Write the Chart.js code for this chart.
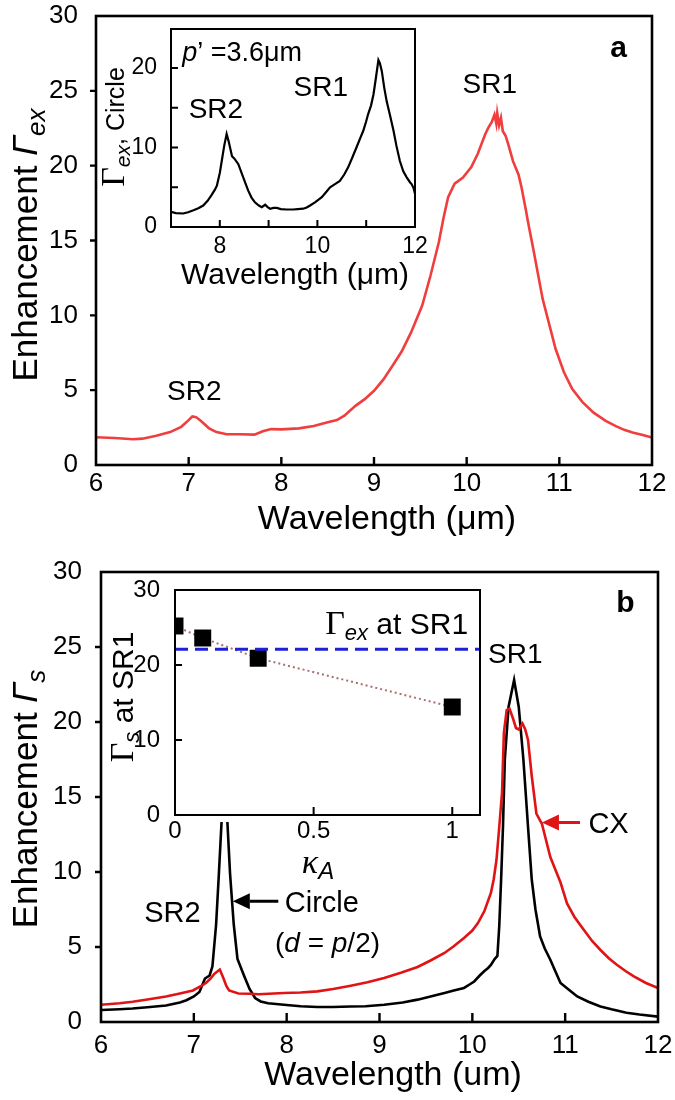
<!DOCTYPE html>
<html>
<head>
<meta charset="utf-8">
<script src="https://cdn.jsdelivr.net/npm/chart.js@4.4.1/dist/chart.umd.min.js"></script>
<style>
html,body{margin:0;padding:0;background:#fff;}
#wrap{position:relative;width:675px;height:1100px;overflow:hidden;background:#fff;}
#wrap canvas{position:absolute;}
</style>
</head>
<body>
<div id="wrap">
<canvas id="mainA" width="675" height="550" style="left:0px;top:0px;width:675px;height:550px"></canvas>
<canvas id="insetA" width="350" height="275" style="left:90px;top:20px;width:350px;height:275px"></canvas>
<canvas id="mainB" width="675" height="550" style="left:0px;top:550px;width:675px;height:550px"></canvas>
<canvas id="insetB" width="400" height="310" style="left:100px;top:575px;width:400px;height:310px"></canvas>
</div>
<script>
// ---------------- DATA ----------------
// Panel a, main: enhancement Γex vs wavelength (red)
const waveA = [6.0,6.2,6.4,6.5,6.65,6.8,6.92,7.0,7.04,7.08,7.13,7.22,7.3,7.41,7.55,7.71,7.8,7.89,8.0,8.19,8.35,8.5,8.6,8.68,8.8,8.9,9.0,9.1,9.2,9.3,9.4,9.52,9.61,9.7,9.75,9.8,9.87,9.96,10.05,10.12,10.2,10.24,10.27,10.3,10.32,10.33,10.35,10.37,10.39,10.42,10.45,10.5,10.56,10.59,10.64,10.66,10.72,10.82,10.96,11.05,11.14,11.25,11.37,11.5,11.61,11.7,11.79,11.9,12.0];
const gammaExA = [1.85,1.8,1.72,1.76,1.95,2.2,2.55,3.0,3.25,3.2,2.95,2.45,2.2,2.05,2.05,2.03,2.25,2.4,2.38,2.45,2.6,2.85,3.0,3.3,3.95,4.4,4.96,5.7,6.63,7.6,8.86,10.65,12.66,14.9,16.5,17.9,18.8,19.2,19.9,20.8,22.1,22.6,22.9,23.4,22.8,23.5,22.7,23.2,22.3,22.0,21.4,20.3,19.4,18.6,17.0,16.3,14.4,11.1,7.75,6.2,5.07,4.2,3.5,2.95,2.6,2.35,2.17,2.0,1.83];

// Panel a, inset: Γex for circle, p' = 3.6 µm (black)
const waveInsetA = [7.0,7.1,7.25,7.35,7.46,7.56,7.66,7.75,7.83,7.9,7.94,8.0,8.04,8.09,8.14,8.18,8.21,8.25,8.3,8.38,8.48,8.58,8.65,8.72,8.8,8.86,8.93,8.98,9.03,9.1,9.17,9.25,9.37,9.5,9.6,9.71,9.78,9.85,9.95,10.09,10.18,10.26,10.36,10.46,10.55,10.63,10.72,10.8,10.88,10.94,11.0,11.04,11.1,11.15,11.2,11.25,11.28,11.32,11.37,11.42,11.49,11.56,11.62,11.69,11.76,11.83,11.9,11.93,11.97,12.0];
const gammaExCircle = [1.9,1.75,1.7,1.85,2.1,2.35,2.7,3.3,4.0,4.7,5.2,6.8,8.3,10.2,11.7,10.8,10.0,8.9,8.6,7.9,6.25,4.6,3.7,3.1,2.7,2.5,2.8,2.5,2.3,2.4,2.4,2.25,2.2,2.2,2.25,2.3,2.45,2.7,3.1,3.75,4.4,5.0,5.4,5.8,6.6,7.5,8.8,10.0,11.2,12.1,13.3,14.2,15.3,16.7,18.8,21.0,20.6,19.6,17.5,15.8,14.0,12.1,10.2,8.3,7.0,6.25,5.6,5.4,4.9,4.2];

// Panel b, main: Γs for circle (black) and CX (red)
const waveCircleB = [6.0,6.2,6.34,6.5,6.7,6.85,6.92,7.0,7.06,7.12,7.17,7.2,7.24,7.27,7.3,7.33,7.36,7.39,7.43,7.47,7.54,7.6,7.66,7.72,7.8,7.97,8.15,8.33,8.5,8.69,8.85,9.05,9.25,9.41,9.55,9.7,9.8,9.91,9.97,10.02,10.08,10.13,10.17,10.2,10.24,10.27,10.29,10.31,10.33,10.35,10.39,10.45,10.5,10.55,10.6,10.64,10.68,10.73,10.78,10.84,10.9,10.95,11.05,11.13,11.25,11.38,11.5,11.66,11.8,12.0];
const gammaSCircle = [0.8,0.85,0.9,0.98,1.1,1.3,1.45,1.7,2.0,2.9,3.1,3.7,6.5,9.9,13.5,16.0,13.5,9.9,6.5,4.2,3.1,2.2,1.6,1.37,1.25,1.15,1.05,1.0,1.0,1.03,1.05,1.15,1.3,1.49,1.7,1.93,2.1,2.27,2.5,2.7,3.1,3.4,3.6,3.8,4.2,4.4,6.4,9.5,13.0,17.5,21.0,22.8,21.0,17.5,13.0,9.5,7.5,5.7,4.9,4.15,3.3,2.6,2.1,1.7,1.35,1.04,0.85,0.62,0.5,0.36];
const waveCXB = [6.0,6.2,6.34,6.5,6.7,6.85,6.99,7.08,7.13,7.18,7.22,7.28,7.32,7.35,7.38,7.48,7.6,7.7,7.97,8.15,8.33,8.5,8.69,8.87,9.05,9.23,9.41,9.55,9.7,9.8,9.91,10.0,10.06,10.13,10.2,10.23,10.26,10.29,10.32,10.34,10.37,10.4,10.44,10.47,10.5,10.54,10.57,10.6,10.64,10.69,10.75,10.84,10.95,11.02,11.1,11.2,11.29,11.38,11.47,11.56,11.65,11.74,11.87,12.0];
const gammaSCX = [1.15,1.25,1.35,1.5,1.7,1.9,2.1,2.4,2.6,2.9,3.2,3.5,2.9,2.4,2.1,1.9,1.88,1.85,1.93,1.97,2.04,2.2,2.42,2.65,2.93,3.28,3.67,4.1,4.6,5.05,5.6,6.1,6.6,7.4,8.6,9.5,10.8,13.0,15.3,19.3,20.8,20.9,20.2,19.6,19.5,19.9,19.5,18.8,16.4,13.9,13.2,11.0,9.3,7.9,7.0,6.15,5.4,4.8,4.25,3.8,3.4,3.04,2.6,2.27];

// Panel b, inset: Γs at SR1 vs κA, and Γex at SR1 reference
const kappaA = [0, 0.1, 0.3, 1];
const gammaSSR1 = [25.2, 23.6, 20.9, 14.4];
const gammaExSR1 = 22.1;

// Axis ranges
const mainXRange = [6, 12];
const mainYRange = [0, 30];
const insetAXRange = [7, 12];
const insetAYRange = [0, 24.9];
const insetBXRange = [0, 1.1];
const insetBYRange = [0, 30];

// ---------------- STYLE / HELPERS ----------------
const SANS = '"Liberation Sans", Arial, Helvetica, sans-serif';
const SERIF = '"Liberation Serif", "Times New Roman", serif';
const fnt = (size, style, fam) => ((style || '') + ' ' + size + 'px ' + (fam || SANS)).trim();
Chart.defaults.font.family = SANS;
Chart.defaults.color = '#000';

const pts = (xs, ys) => xs.map((x, i) => ({ x: x, y: ys[i] }));
const zeroPad = s => { s.paddingTop = 0; s.paddingBottom = 0; s.paddingLeft = 0; s.paddingRight = 0; };

function drawRich(ctx, runs, x, y, align, rot, size) {
  ctx.save();
  ctx.translate(x, y);
  if (rot) ctx.rotate(rot);
  ctx.textBaseline = 'alphabetic';
  ctx.textAlign = 'left';
  let w = 0;
  const ws = runs.map(r => { ctx.font = r.font; const m = ctx.measureText(r.t).width; w += m; return m; });
  let cx = align === 'center' ? -w / 2 : (align === 'right' ? -w : 0);
  const base = 0.36 * size;
  runs.forEach((r, i) => {
    ctx.font = r.font; ctx.fillStyle = r.color || '#000';
    ctx.fillText(r.t, cx, base + (r.dy || 0));
    cx += ws[i];
  });
  ctx.restore();
}

function decor(spec) {
  return {
    id: 'decor_' + spec.name,
    beforeDraw(chart) {
      if (!spec.whiteBg) return;
      const a = chart.chartArea, ctx = chart.ctx;
      ctx.save(); ctx.fillStyle = '#fff';
      ctx.fillRect(a.left - 1, a.top - 1, a.right - a.left + 2, a.bottom - a.top + 2 + (spec.bgExtend || 0));
      ctx.restore();
    },
    afterDraw(chart) {
      const ctx = chart.ctx, a = chart.chartArea, xs = chart.scales.x, ys = chart.scales.y;
      ctx.save();
      ctx.strokeStyle = '#000';
      ctx.lineWidth = spec.tickWidth;
      ctx.beginPath();
      xs.ticks.forEach(t => {
        if (t.value <= xs.min || t.value >= xs.max) return;
        const p = xs.getPixelForValue(t.value);
        ctx.moveTo(p, a.bottom); ctx.lineTo(p, a.bottom + (spec.xIn ? -spec.xLen : spec.xLen));
      });
      ys.ticks.forEach(t => {
        if (t.value <= ys.min || t.value >= ys.max) return;
        const p = ys.getPixelForValue(t.value);
        ctx.moveTo(a.left, p); ctx.lineTo(a.left + (spec.yIn ? spec.yLen : -spec.yLen), p);
      });
      ctx.stroke();
      ctx.lineWidth = spec.frameWidth;
      ctx.strokeRect(a.left, a.top, a.right - a.left, a.bottom - a.top);
      (spec.arrows || []).forEach(ar => {
        const x1 = xs.getPixelForValue(ar.from[0]), y1 = ys.getPixelForValue(ar.from[1]);
        const x2 = xs.getPixelForValue(ar.to[0]), y2 = ys.getPixelForValue(ar.to[1]);
        const ang = Math.atan2(y2 - y1, x2 - x1);
        const bx = x2 - Math.cos(ang) * ar.headLen, by = y2 - Math.sin(ang) * ar.headLen;
        ctx.strokeStyle = ar.color; ctx.fillStyle = ar.color; ctx.lineWidth = ar.width;
        ctx.beginPath(); ctx.moveTo(x1, y1); ctx.lineTo(bx, by); ctx.stroke();
        ctx.beginPath(); ctx.moveTo(x2, y2);
        ctx.lineTo(bx + Math.sin(ang) * ar.headHalf, by - Math.cos(ang) * ar.headHalf);
        ctx.lineTo(bx - Math.sin(ang) * ar.headHalf, by + Math.cos(ang) * ar.headHalf);
        ctx.closePath(); ctx.fill();
      });
      (spec.texts || []).forEach(tx => {
        let x = tx.x, y = tx.y;
        if (tx.data) { x = xs.getPixelForValue(tx.x); y = ys.getPixelForValue(tx.y); }
        drawRich(ctx, tx.runs, x, y, tx.align || 'center', tx.rot || 0, tx.size);
      });
      ctx.restore();
    }
  };
}

function baseOptions(o) {
  return {
    responsive: false, animation: false, events: [],
    layout: { padding: { left: 0, top: o.top, right: o.right, bottom: 0 }, autoPadding: false },
    plugins: { legend: { display: false }, tooltip: { enabled: false } },
    scales: {
      x: {
        type: 'linear', min: o.xr[0], max: o.xr[1],
        grid: { display: false }, border: { display: false },
        ticks: { stepSize: o.xStep, font: { size: o.tick }, color: '#000', padding: o.xPad, maxRotation: 0, autoSkip: false, includeBounds: false, callback: o.xCb },
        afterFit: s => { s.height = o.xH; zeroPad(s); }
      },
      y: {
        type: 'linear', min: o.yr[0], max: o.yr[1],
        grid: { display: false }, border: { display: false },
        ticks: { stepSize: o.yStep, font: { size: o.tick }, color: '#000', padding: o.yPad, autoSkip: false, includeBounds: false, callback: o.yCb },
        afterFit: s => { s.width = o.yW; zeroPad(s); }
      }
    }
  };
}

const ROT = -Math.PI / 2;
const RED_A = 'rgb(240,62,62)';
const RED_B = 'rgb(224,20,20)';

// ---------------- PANEL a : main ----------------
new Chart(document.getElementById('mainA'), {
  type: 'line',
  data: { datasets: [{ data: pts(waveA, gammaExA), borderColor: RED_A, borderWidth: 2.6, pointRadius: 0, tension: 0, fill: false }] },
  options: baseOptions({ top: 16, right: 23, xr: mainXRange, yr: mainYRange, xStep: 1, yStep: 5, tick: 26, xPad: -5, yPad: 10, xH: 85, yW: 96 }),
  plugins: [decor({
    name: 'mainA', frameWidth: 2.6, tickWidth: 2.4, xIn: true, xLen: 8, yIn: false, yLen: 6,
    texts: [
      { x: 24, y: 245, rot: ROT, size: 35, runs: [{ t: 'Enhancement ', font: fnt(35) }, { t: 'Γ', font: fnt(35, 'italic') }, { t: 'ex', font: fnt(26, 'italic'), dy: 8 }] },
      { x: 387, y: 517, size: 34, runs: [{ t: 'Wavelength (μm)', font: fnt(34) }] },
      { data: true, x: 7.06, y: 5.0, size: 28, runs: [{ t: 'SR2', font: fnt(28) }] },
      { data: true, x: 10.25, y: 25.53, size: 28, runs: [{ t: 'SR1', font: fnt(28) }] },
      { data: true, x: 11.64, y: 28.0, size: 30, runs: [{ t: 'a', font: fnt(30, 'bold') }] }
    ]
  })]
});

// ---------------- PANEL a : inset ----------------
new Chart(document.getElementById('insetA'), {
  type: 'line',
  data: { datasets: [{ data: pts(waveInsetA, gammaExCircle), borderColor: '#000', borderWidth: 2.2, pointRadius: 0, tension: 0, fill: false }] },
  options: baseOptions({ top: 9, right: 25, xr: insetAXRange, yr: insetAYRange, xStep: 1, yStep: 5, tick: 23, xPad: -2, yPad: 6, xH: 68, yW: 81,
    xCb: v => (v % 2 === 0 ? String(v) : ''), yCb: v => (v % 10 === 0 ? String(v) : '') }),
  plugins: [decor({
    name: 'insetA', whiteBg: true, frameWidth: 2, tickWidth: 2, xIn: true, xLen: 7, yIn: true, yLen: 7,
    texts: [
      { x: 25, y: 107, rot: ROT, size: 25, runs: [{ t: 'Γ', font: fnt(34, '', SERIF) }, { t: 'ex', font: fnt(21, 'italic'), dy: 6 }, { t: ', Circle', font: fnt(25) }] },
      { x: 205, y: 253, size: 30, runs: [{ t: 'Wavelength (μm)', font: fnt(30) }] },
      { data: true, x: 7.23, y: 22.1, align: 'left', size: 27, runs: [{ t: 'p', font: fnt(27, 'italic') }, { t: '’ =3.6μm', font: fnt(27) }] },
      { data: true, x: 7.92, y: 15.0, size: 28, runs: [{ t: 'SR2', font: fnt(28) }] },
      { data: true, x: 10.07, y: 17.8, size: 28, runs: [{ t: 'SR1', font: fnt(28) }] }
    ]
  })]
});

// ---------------- PANEL b : main ----------------
new Chart(document.getElementById('mainB'), {
  type: 'line',
  data: { datasets: [
    { data: pts(waveCXB, gammaSCX), borderColor: RED_B, borderWidth: 2.6, pointRadius: 0, tension: 0, fill: false },
    { data: pts(waveCircleB, gammaSCircle), borderColor: '#000', borderWidth: 2.6, pointRadius: 0, tension: 0, fill: false }
  ] },
  options: baseOptions({ top: 22, right: 17, xr: mainXRange, yr: mainYRange, xStep: 1, yStep: 5, tick: 26, xPad: 0, yPad: 11, xH: 78, yW: 101 }),
  plugins: [decor({
    name: 'mainB', frameWidth: 2.6, tickWidth: 2.4, xIn: true, xLen: 9, yIn: false, yLen: 6,
    arrows: [
      { from: [7.91, 8.05], to: [7.42, 8.05], color: '#000', width: 3, headLen: 17, headHalf: 8 },
      { from: [11.16, 13.3], to: [10.75, 13.3], color: RED_B, width: 3, headLen: 17, headHalf: 8 }
    ],
    texts: [
      { x: 24, y: 249, rot: ROT, size: 35, runs: [{ t: 'Enhancement ', font: fnt(35) }, { t: 'Γ', font: fnt(35, 'italic') }, { t: 's', font: fnt(26, 'italic'), dy: 8 }] },
      { x: 393, y: 523, size: 34, runs: [{ t: 'Wavelength (um)', font: fnt(34) }] },
      { data: true, x: 6.77, y: 7.35, size: 29, runs: [{ t: 'SR2', font: fnt(29) }] },
      { data: true, x: 7.98, y: 8.05, align: 'left', size: 29, runs: [{ t: 'Circle', font: fnt(29) }] },
      { data: true, x: 8.44, y: 5.35, size: 28, runs: [{ t: '(', font: fnt(28) }, { t: 'd', font: fnt(28, 'italic') }, { t: ' = ', font: fnt(28) }, { t: 'p', font: fnt(28, 'italic') }, { t: '/2)', font: fnt(28) }] },
      { data: true, x: 10.17, y: 24.6, align: 'left', size: 28, runs: [{ t: 'SR1', font: fnt(28) }] },
      { data: true, x: 11.65, y: 28.07, size: 30, runs: [{ t: 'b', font: fnt(30, 'bold') }] },
      { data: true, x: 11.25, y: 13.3, align: 'left', size: 29, runs: [{ t: 'CX', font: fnt(29) }] }
    ]
  })]
});

// ---------------- PANEL b : inset ----------------
new Chart(document.getElementById('insetB'), {
  type: 'line',
  data: { datasets: [
    { data: [{ x: insetBXRange[0], y: gammaExSR1 }, { x: insetBXRange[1], y: gammaExSR1 }], borderColor: '#1e22d6', borderWidth: 3, borderDash: [13, 7], pointRadius: 0, tension: 0, fill: false },
    { data: pts(kappaA, gammaSSR1), borderColor: '#a87070', borderWidth: 2, borderDash: [2, 3], pointStyle: 'rect', pointRadius: 12, pointBackgroundColor: '#000', pointBorderColor: '#000', pointBorderWidth: 0, tension: 0, fill: false }
  ] },
  options: baseOptions({ top: 15, right: 20, xr: insetBXRange, yr: insetBYRange, xStep: 0.5, yStep: 10, tick: 24, xPad: -6, yPad: 7, xH: 70, yW: 75 }),
  plugins: [decor({
    name: 'insetB', whiteBg: true, bgExtend: 6, frameWidth: 2, tickWidth: 2, xIn: true, xLen: 8, yIn: true, yLen: 7,
    texts: [
      { x: 22, y: 122, rot: ROT, size: 30, runs: [{ t: 'Γ', font: fnt(34, '', SERIF) }, { t: 's', font: fnt(22, 'italic'), dy: 6 }, { t: ' at SR1', font: fnt(30) }] },
      { x: 218, y: 287, size: 30, runs: [{ t: 'κ', font: fnt(34, 'italic', SERIF) }, { t: 'A', font: fnt(24, 'italic'), dy: 6 }] },
      { data: true, x: 1.057, y: 25.6, align: 'right', size: 30, runs: [{ t: 'Γ', font: fnt(34, '', SERIF) }, { t: 'ex', font: fnt(22, 'italic'), dy: 6 }, { t: ' at SR1', font: fnt(30) }] }
    ]
  })]
});
</script>
</body>
</html>
